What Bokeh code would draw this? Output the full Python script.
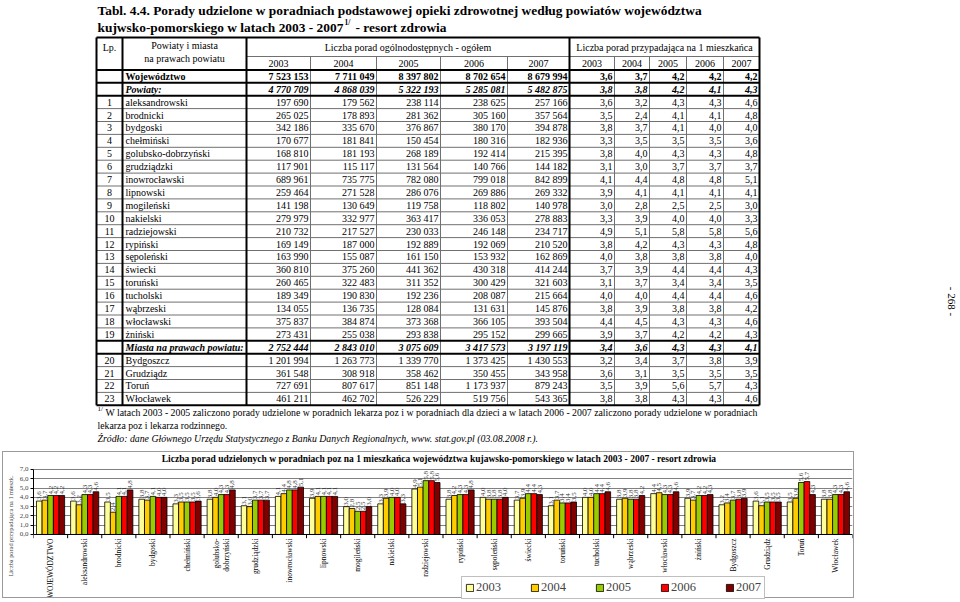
import numpy as np
from bokeh.plotting import figure
from bokeh.models import (ColumnDataSource, Range1d, Legend, LegendItem, Span,
                          FixedTicker, CustomJSTickFormatter)
from bokeh.transform import dodge
from bokeh.layouts import column
from bokeh.core.properties import value
from bokeh.embed import file_html
from bokeh.resources import INLINE

# ---------------- data ----------------
years = ["2003", "2004", "2005", "2006", "2007"]

lp = ["", "", "1", "2", "3", "4", "5", "6", "7", "8", "9", "10", "11", "12", "13",
      "14", "15", "16", "17", "18", "19", "", "20", "21", "22", "23"]

names = ["Województwo", "Powiaty:", "aleksandrowski", "brodnicki", "bydgoski",
         "chełmiński", "golubsko-dobrzyński", "grudziądzki", "inowrocławski",
         "lipnowski", "mogileński", "nakielski", "radziejowski", "rypiński",
         "sępoleński", "świecki", "toruński", "tucholski", "wąbrzeski",
         "włocławski", "żniński", "Miasta na prawach powiatu:", "Bydgoszcz",
         "Grudziądz", "Toruń", "Włocławek"]

porady_2003 = [7523153, 4770709, 197690, 265025, 342186, 170677, 168810, 117901, 689961,
               259464, 141198, 279979, 210732, 169149, 163990, 360810, 260465, 189349,
               134055, 375837, 273431, 2752444, 1201994, 361548, 727691, 461211]
porady_2004 = [7711049, 4868039, 179562, 178893, 335670, 181841, 181193, 115117, 735775,
               271528, 130649, 332977, 217527, 187000, 155087, 375260, 322483, 190830,
               136735, 384874, 255038, 2843010, 1263773, 308918, 807617, 462702]
porady_2005 = [8397802, 5322193, 238114, 281362, 376867, 150454, 268189, 131564, 782080,
               286076, 119758, 363417, 230033, 192889, 161150, 441362, 311352, 192236,
               128084, 373368, 293838, 3075609, 1339770, 358462, 851148, 526229]
porady_2006 = [8702654, 5285081, 238625, 305160, 380170, 180316, 192414, 140766, 799018,
               269886, 118802, 336053, 246148, 192069, 153932, 430318, 300429, 208087,
               131631, 366105, 295152, 3417573, 1373425, 350455, 1173937, 519756]
porady_2007 = [8679994, 5482875, 257166, 357564, 394878, 182936, 215395, 144182, 842899,
               269332, 140978, 278883, 234717, 210520, 162869, 414244, 321603, 215664,
               145876, 393504, 299665, 3197119, 1430553, 343958, 879243, 543365]

na1_2003 = [3.6, 3.8, 3.6, 3.5, 3.8, 3.3, 3.8, 3.1, 4.1, 3.9, 3.0, 3.3, 4.9, 3.8, 4.0,
            3.7, 3.1, 4.0, 3.8, 4.4, 3.9, 3.4, 3.2, 3.6, 3.5, 3.8]
na1_2004 = [3.7, 3.8, 3.2, 2.4, 3.7, 3.5, 4.0, 3.0, 4.4, 4.1, 2.8, 3.9, 5.1, 4.2, 3.8,
            3.9, 3.7, 4.0, 3.9, 4.5, 3.7, 3.6, 3.4, 3.1, 3.9, 3.8]
na1_2005 = [4.2, 4.2, 4.3, 4.1, 4.1, 3.5, 4.3, 3.7, 4.8, 4.1, 2.5, 4.0, 5.8, 4.3, 3.8,
            4.4, 3.4, 4.4, 3.8, 4.3, 4.2, 4.3, 3.7, 3.5, 5.6, 4.3]
na1_2006 = [4.2, 4.1, 4.3, 4.1, 4.0, 3.5, 4.3, 3.7, 4.8, 4.1, 2.5, 4.0, 5.8, 4.3, 3.8,
            4.4, 3.4, 4.4, 3.8, 4.3, 4.2, 4.3, 3.8, 3.5, 5.7, 4.3]
na1_2007 = [4.2, 4.3, 4.6, 4.8, 4.0, 3.6, 4.8, 3.7, 5.1, 4.1, 3.0, 3.3, 5.6, 4.8, 4.0,
            4.3, 3.5, 4.6, 4.2, 4.6, 4.3, 4.1, 3.9, 3.5, 4.3, 4.6]

# chart categories (rows of the table without the two subtotal rows)
chart_labels = ["WOJEWÓDZTWO", "aleksandrowski", "brodnicki", "bydgoski", "chełmiński",
                "golubsko-\ndobrzyński", "grudziądzki", "inowrocławski", "lipnowski",
                "mogileński", "nakielski", "radziejowski", "rypiński", "sępoleński",
                "świecki", "toruński", "tucholski", "wąbrzeski", "włocławski", "żniński",
                "Bydgoszcz", "Grudziądz", "Toruń", "Włocławek"]
chart_rows = [i for i in range(len(names)) if i not in (1, 21)]
chart_title = ("Liczba porad udzielonych w poradniach poz na 1 mieszkańca województwa "
               "kujawsko-pomorskiego w latach 2003 - 2007 - resort zdrowia")

year_colors = ["#FFFF99", "#FFCC00", "#99CC00", "#FF0000", "#800000"]

SERIF = value("Liberation Serif")


def fmt_int(v):
    return f"{v:,}".replace(",", " ")


def fmt_dec(v):
    return f"{v:.1f}".replace(".", ",")


# ---------------- page / table figure ----------------
TOP_H = 451
page = figure(width=960, height=TOP_H, x_range=Range1d(0, 960), y_range=Range1d(TOP_H, 0),
              x_axis_type=None, y_axis_type=None,
              output_backend="svg", toolbar_location=None, min_border=0)
page.frame_align = False
page.grid.visible = False
page.outline_line_color = None


def put(x, y, t, size="10px", style="normal", align="left", angle=0.0, color="black"):
    page.text(x=[x], y=[y], text=[t], text_font=SERIF,
              text_font_size=size, text_font_style=style, text_align=align,
              text_baseline="middle", angle=angle, text_color=color)


# title
put(97, 10, "Tabl. 4.4.  Porady udzielone w poradniach podstawowej opieki zdrowotnej według powiatów województwa",
    size="13.4px", style="bold")
put(97, 27, "kujwsko-pomorskiego w latach 2003 - 2007", size="13.4px", style="bold")
put(344, 22, "1/", size="7.5px", style="bold")
put(355, 27, "- resort zdrowia", size="13.4px", style="bold")

# table geometry (layout)
edges = [96, 122, 246, 310, 376, 440, 507, 569, 614, 649, 686, 723, 759]
T_TOP, T_MID, Y0, RH = 37, 56, 69.4, 12.9
n_rows = len(names)
T_BOT = Y0 + n_rows * RH

thin_x0, thin_y0, thin_x1, thin_y1 = [], [], [], []
for k in range(1, n_rows):
    if k in (1, 2, 21, 22):
        continue
    yy = Y0 + k * RH
    thin_x0.append(edges[0]); thin_x1.append(edges[-1]); thin_y0.append(yy); thin_y1.append(yy)
thin_x0.append(edges[2]); thin_x1.append(edges[-1]); thin_y0.append(T_MID); thin_y1.append(T_MID)
for e in edges[3:7] + edges[8:12]:
    thin_x0.append(e); thin_x1.append(e); thin_y0.append(T_MID); thin_y1.append(T_BOT)
page.segment(thin_x0, thin_y0, thin_x1, thin_y1, line_color="#707070", line_width=1)

thick_x0, thick_y0, thick_x1, thick_y1 = [], [], [], []
for yy in [T_TOP, Y0, Y0 + RH, Y0 + 2 * RH, Y0 + 21 * RH, Y0 + 22 * RH, T_BOT]:
    thick_x0.append(edges[0]); thick_x1.append(edges[-1]); thick_y0.append(yy); thick_y1.append(yy)
for e in [edges[0], edges[1], edges[2], edges[7], edges[-1]]:
    thick_x0.append(e); thick_x1.append(e); thick_y0.append(T_TOP); thick_y1.append(T_BOT)
page.segment(thick_x0, thick_y0, thick_x1, thick_y1, line_color="black", line_width=2)

# header texts
put(109, 47, "Lp.", align="center")
put(184, 45, "Powiaty i miasta", align="center")
put(184, 58, "na prawach powiatu", align="center")
put((edges[2] + edges[7]) / 2, 47, "Liczba porad ogólnodostępnych - ogółem", align="center")
put((edges[7] + edges[-1]) / 2, 47, "Liczba porad przypadająca na 1 mieszkańca", align="center")
for j in range(10):
    put((edges[2 + j] + edges[3 + j]) / 2, 63, years[j % 5], align="center")

# body
abs_cols = [porady_2003, porady_2004, porady_2005, porady_2006, porady_2007]
pc_cols = [na1_2003, na1_2004, na1_2005, na1_2006, na1_2007]
for i in range(n_rows):
    yc = Y0 + (i + 0.5) * RH
    style = "bold" if i == 0 else ("bold italic" if i in (1, 21) else "normal")
    if lp[i]:
        put((edges[0] + edges[1]) / 2, yc, lp[i], align="center")
    put(edges[1] + 3, yc, names[i], style=style)
    for j in range(5):
        put(edges[3 + j] - 2, yc, fmt_int(abs_cols[j][i]), style=style, align="right")
        put(edges[8 + j] - 2, yc, fmt_dec(pc_cols[j][i]), style=style, align="right")

# footnotes
put(97, 408, "1/", size="7px")
put(105, 412, "W latach 2003 -  2005 zaliczono porady udzielone w poradnich lekarza poz i w poradniach dla dzieci a w latach 2006 - 2007 zaliczono porady udzielone w poradniach",
    size="9.8px")
put(97, 425, "lekarza poz i lekarza rodzinnego.", size="9.8px")
put(97, 438, "Źródło: dane Głównego Urzędu Statystycznego z Banku Danych Regionalnych, www. stat.gov.pl  (03.08.2008 r.).",
    size="9.8px", style="italic")

# page number
put(951, 301, "- 268 -", size="11px", align="center", angle=-np.pi / 2)

# ---------------- chart figure ----------------
src = {"cat": chart_labels}
for yr, vals in zip(years, pc_cols):
    src["y" + yr] = [vals[i] for i in chart_rows]
    src["t" + yr] = [fmt_dec(vals[i]) for i in chart_rows]
source = ColumnDataSource(src)

# frame covers the whole chart area; values 0..7 occupy its upper middle part
ch = figure(width=852, height=147, x_range=chart_labels, y_range=Range1d(-7.0, 8.83),
            x_axis_location=None, output_backend="svg", toolbar_location=None,
            min_border_left=26, min_border_right=3, min_border_top=0, min_border_bottom=0)
ch.frame_align = False
ch.styles = {"border": "1px solid #9a9a9a"}
ch.margin = (0, 0, 0, 2)

ch.outline_line_color = None
ch.xgrid.grid_line_color = None
ch.ygrid.grid_line_color = "#808080"
ch.ygrid.ticker = FixedTicker(ticks=[0, 1, 2, 3, 4, 5, 6, 7])
ch.yaxis.ticker = FixedTicker(ticks=[0, 1, 2, 3, 4, 5, 6, 7])
ch.yaxis.bounds = (0, 7)
ch.yaxis.formatter = CustomJSTickFormatter(code="return tick.toFixed(1).replace('.', ',');")
ch.yaxis.axis_label = "Liczba porad przypadająca na 1 mieszk."
ch.yaxis.axis_label_text_font = "Liberation Serif"
ch.yaxis.axis_label_text_font_size = "6.3px"
ch.yaxis.axis_label_text_font_style = "normal"
ch.yaxis.axis_label_standoff = 3
ch.yaxis.major_label_text_font = "Liberation Serif"
ch.yaxis.major_label_text_font_size = "7px"
ch.yaxis.major_label_standoff = 2
ch.yaxis.major_tick_out = 3
ch.yaxis.major_tick_in = 0
ch.yaxis.minor_tick_line_color = None
ch.yaxis.axis_line_color = "black"

# chart title (inside the frame, above the 7,0 line)
ch.text(x=dodge("cat", 0.38, range=ch.x_range), y=8.08, text="title",
        source=ColumnDataSource({"cat": ["radziejowski"], "title": [chart_title]}),
        text_align="center", text_baseline="middle", text_font=SERIF,
        text_font_size="9.5px", text_font_style="bold", text_color="black")

# category axis drawn inside the extended frame
ch.add_layout(Span(location=0, dimension="width", line_color="black", line_width=1))
bnd = ColumnDataSource({"cat": chart_labels})
ch.segment(x0=dodge("cat", -0.5, range=ch.x_range), y0=0,
           x1=dodge("cat", -0.5, range=ch.x_range), y1=-0.4,
           source=bnd, line_color="black", line_width=1)
ch.segment(x0=dodge("cat", 0.5, range=ch.x_range), y0=0,
           x1=dodge("cat", 0.5, range=ch.x_range), y1=-0.4,
           source=ColumnDataSource({"cat": chart_labels[-1:]}), line_color="black", line_width=1)
ch.text(x="cat", y=0, text="cat", source=bnd, angle=np.pi / 2, text_align="right",
        text_baseline="middle", text_font=SERIF, text_font_size="7.5px",
        text_color="black", y_offset=4, text_line_height=1.1)

offsets = [-0.33, -0.165, 0.0, 0.165, 0.33]
items = []
for yr, col, off in zip(years, year_colors, offsets):
    r = ch.vbar(x=dodge("cat", off, range=ch.x_range), top="y" + yr, width=0.165,
                source=source, fill_color=col, line_color="black", line_width=0.8)
    ch.text(x=dodge("cat", off, range=ch.x_range), y="y" + yr, text="t" + yr,
            source=source, angle=np.pi / 2, text_align="left", text_baseline="middle",
            text_font=SERIF, text_font_size="7px", text_color="#3a3a3a", y_offset=-1)
    items.append(LegendItem(label=yr, renderers=[r]))

legend = Legend(items=items, orientation="horizontal", location=(428, 0))
legend.label_text_font = "Liberation Serif"
legend.label_text_font_size = "12.5px"
legend.glyph_width = 9
legend.glyph_height = 9
legend.label_height = 14
legend.label_standoff = 2
legend.spacing = 29
legend.padding = 3
legend.margin = 0
legend.border_line_color = "#808080"
legend.background_fill_alpha = 1
ch.add_layout(legend)

layout = column(page, ch, spacing=0)
open("out.html", "w").write(file_html(layout, INLINE))
